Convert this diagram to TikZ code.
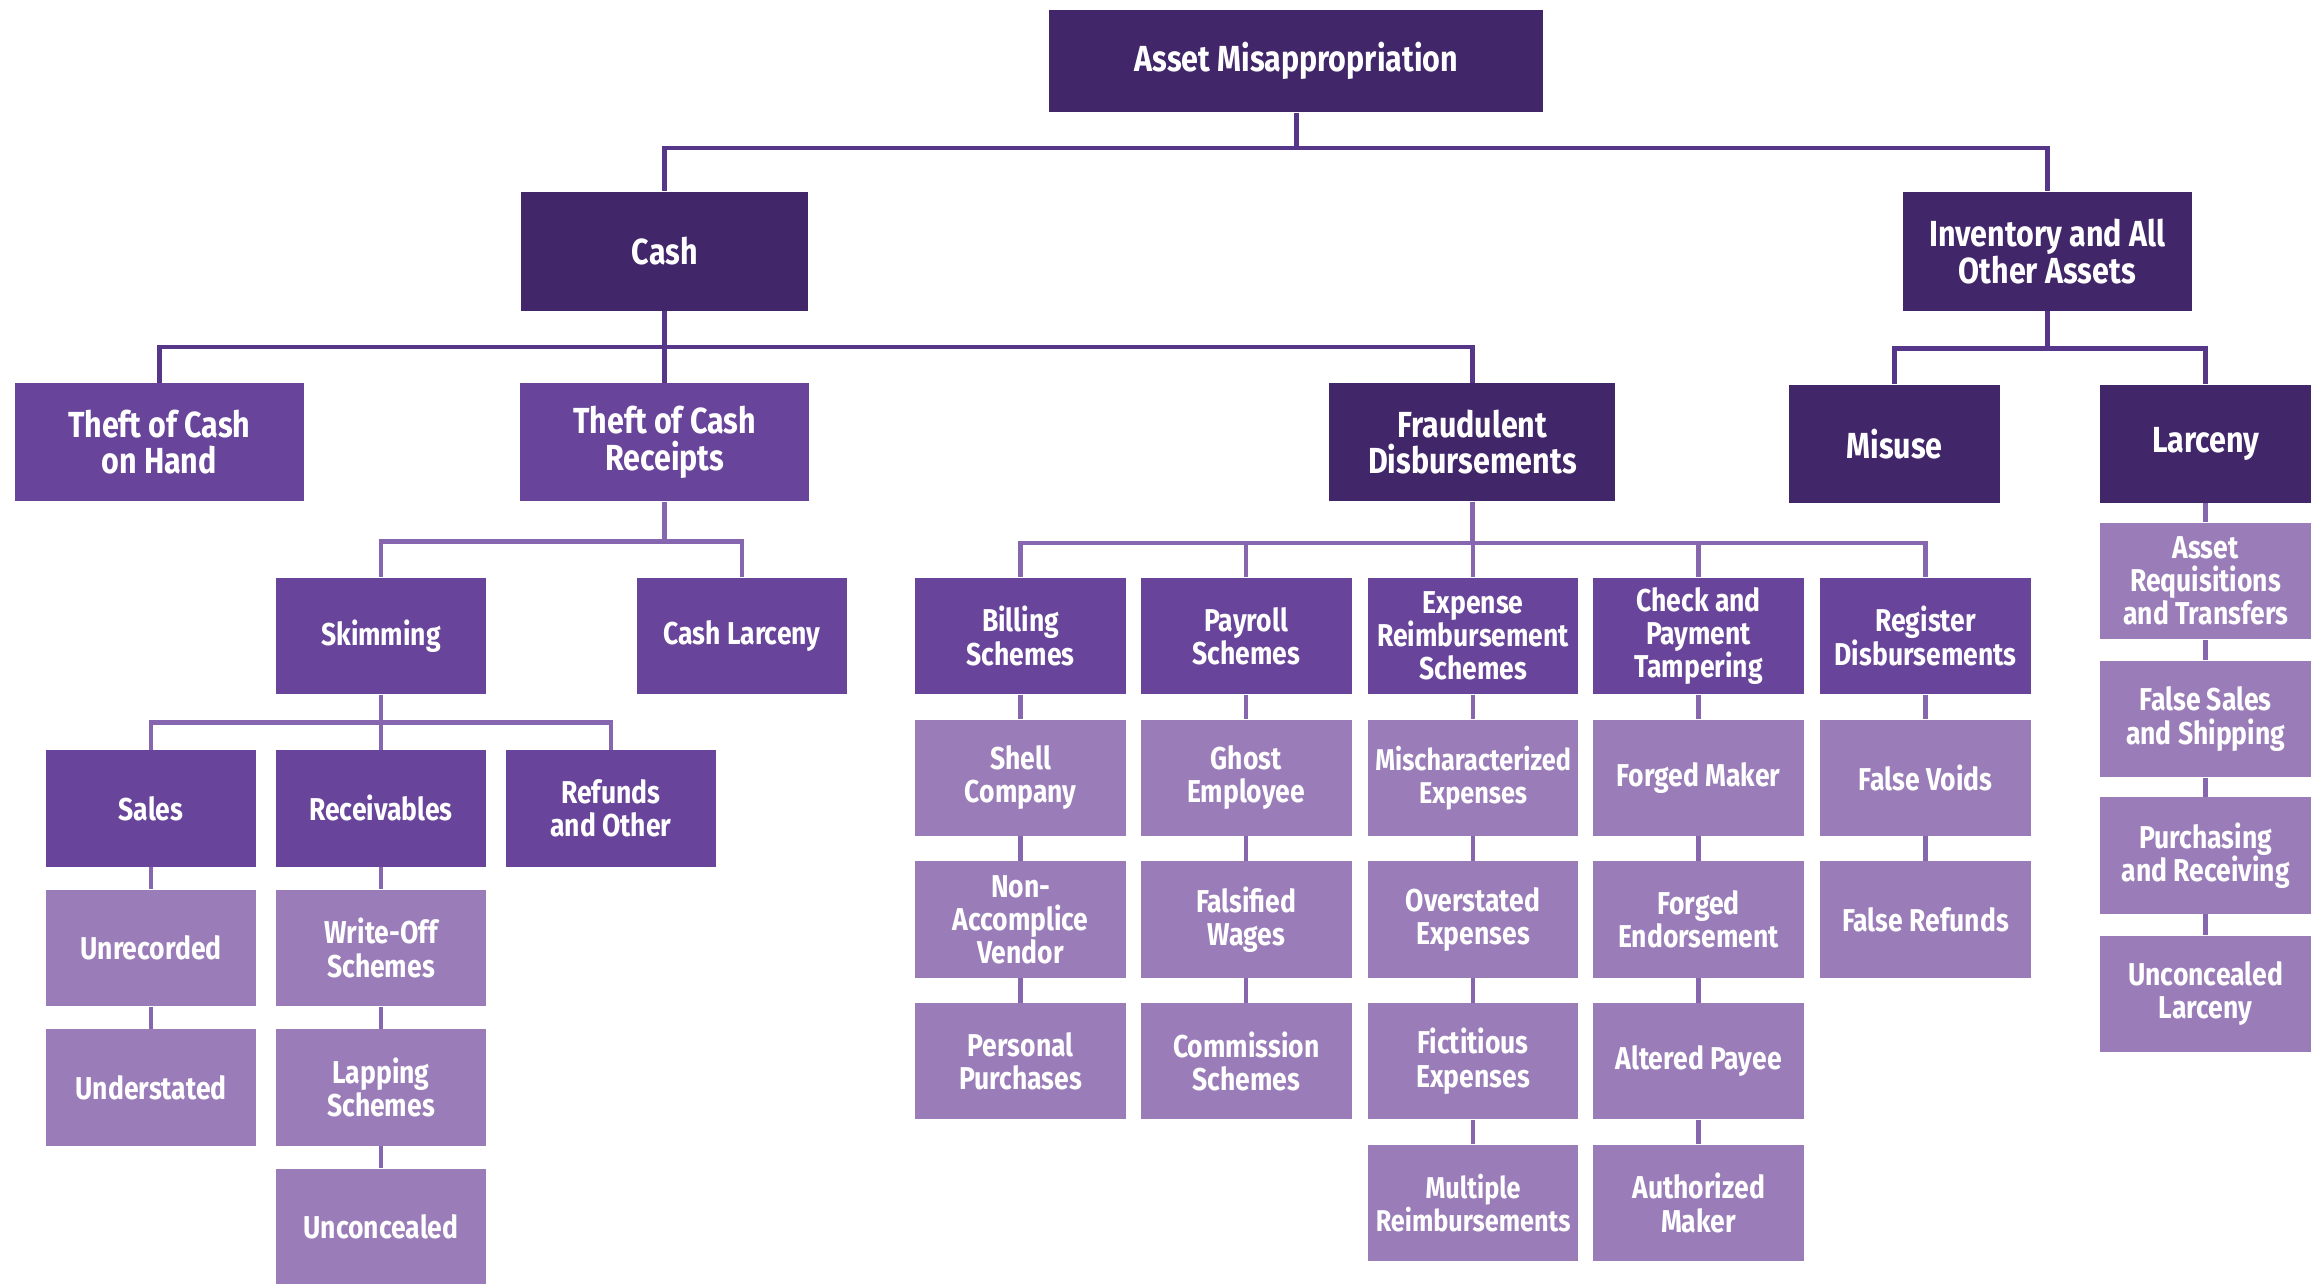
\documentclass[tikz,border=0pt]{standalone}
\usepackage{fontspec}
\setmainfont{Fira Sans}[FakeStretch=0.84]
\usetikzlibrary{positioning}
\definecolor{darkpurple}{HTML}{42266A}
\definecolor{midpurple}{HTML}{68449B}
\definecolor{lightpurple}{HTML}{9A7CB8}
\definecolor{linedark}{HTML}{563689}
\definecolor{linemid}{HTML}{8566AF}

\begin{document}
\begin{tikzpicture}[
  x=0.02cm, y=-0.02cm,
  node distance=0.3cm,
  box/.style={rectangle, inner sep=1pt, align=center, text=white,
    font=\fontsize{12.2}{12.8}\selectfont\bfseries,
    minimum width=2.86cm, minimum height=1.58cm},
  bigtext/.style={font=\fontsize{14}{14.2}\selectfont\bfseries},
  tighttext/.style={font=\fontsize{11.6}{12.8}\selectfont\bfseries},
  topbox/.style={box, fill=darkpurple},
  subbox/.style={box, fill=midpurple},
  leafbox/.style={box, fill=lightpurple},
  link/.style={draw=linedark, line width=1.8pt},
  sublink/.style={draw=linemid, line width=1.8pt},
]
  \useasboundingbox (0,0) rectangle (1568,871);

  % top levels
  \node[topbox, bigtext, minimum width=6.7cm, minimum height=1.38cm] (asset) at (879.5,41.5) {Asset Misappropriation};
  \node[topbox, bigtext, minimum width=3.9cm, minimum height=1.62cm] (cash) at (451,170.5) {Cash};
  \node[topbox, bigtext, minimum width=3.92cm, minimum height=1.62cm] (inv) at (1389,170.5) {Inventory and All\\Other Assets};

  \node[subbox, bigtext, minimum width=3.92cm, minimum height=1.6cm] (hand) at (108,300) {Theft of Cash\\on Hand};
  \node[subbox, bigtext, minimum width=3.92cm, minimum height=1.6cm] (receipts) at (451,300) {Theft of Cash\\Receipts};
  \node[topbox, bigtext, minimum width=3.88cm, minimum height=1.6cm] (fraud) at (999,300) {Fraudulent\\Disbursements};
  \node[topbox, bigtext, minimum height=1.6cm] (misuse) at (1285.5,301) {Misuse};
  \node[topbox, bigtext, minimum height=1.6cm] (larceny) at (1496.5,301) {Larceny};

  % cash receipts
  \node[subbox] (skimming) at (258.5,431.5) {Skimming};
  \node[subbox] (cashlarc) at (503.5,431.5) {Cash Larceny};
  \node[subbox] (sales) at (102.5,548.5) {Sales};
  \node[subbox] (receivables) at (258.5,548.5) {Receivables};
  \node[subbox] (refunds) at (414.5,548.5) {Refunds\\and Other};
  \node[leafbox, below=of sales] (unrecorded) {Unrecorded};
  \node[leafbox, below=of unrecorded] (understated) {Understated};
  \node[leafbox, below=of receivables] (writeoff) {Write-Off\\Schemes};
  \node[leafbox, below=of writeoff] (lapping) {Lapping\\Schemes};
  \node[leafbox, below=of lapping] (unconcealed) {Unconcealed};

  % disbursements
  \node[subbox] (billing) at (692.5,431.5) {Billing\\Schemes};
  \node[subbox] (payroll) at (845.5,431.5) {Payroll\\Schemes};
  \node[subbox] (expense) at (999.5,431.5) {Expense\\Reimbursement\\Schemes};
  \node[subbox] (check) at (1152.5,431.5) {Check and\\Payment\\Tampering};
  \node[subbox] (register) at (1306.5,431.5) {Register\\Disbursements};

  \node[leafbox, below=0.33cm of billing] (shell) {Shell\\Company};
  \node[leafbox, below=0.33cm of shell] (nonacc) {Non-\\Accomplice\\Vendor};
  \node[leafbox, below=0.33cm of nonacc] (personal) {Personal\\Purchases};
  \node[leafbox, below=0.33cm of payroll] (ghost) {Ghost\\Employee};
  \node[leafbox, below=0.33cm of ghost] (wages) {Falsified\\Wages};
  \node[leafbox, below=0.33cm of wages] (commission) {Commission\\Schemes};
  \node[leafbox, tighttext, below=0.33cm of expense] (mischar) {Mischaracterized\\Expenses};
  \node[leafbox, below=0.33cm of mischar] (overstated) {Overstated\\Expenses};
  \node[leafbox, below=0.33cm of overstated] (fictitious) {Fictitious\\Expenses};
  \node[leafbox, tighttext, below=0.33cm of fictitious] (multiple) {Multiple\\Reimbursements};
  \node[leafbox, below=0.33cm of check] (fmaker) {Forged Maker};
  \node[leafbox, below=0.33cm of fmaker] (fendorse) {Forged\\Endorsement};
  \node[leafbox, below=0.33cm of fendorse] (altered) {Altered Payee};
  \node[leafbox, below=0.33cm of altered] (authorized) {Authorized\\Maker};
  \node[leafbox, below=0.33cm of register] (voids) {False Voids};
  \node[leafbox, below=0.33cm of voids] (frefunds) {False Refunds};

  % larceny
  \node[leafbox, below=0.26cm of larceny] (requisitions) {Asset\\Requisitions\\and Transfers};
  \node[leafbox, below=0.28cm of requisitions] (falsesales) {False Sales\\and Shipping};
  \node[leafbox, below=0.26cm of falsesales] (purchasing) {Purchasing\\and Receiving};
  \node[leafbox, below=0.28cm of purchasing] (unconclarc) {Unconcealed\\Larceny};

  % connectors
  \foreach \c in {cash,inv}
    \draw[link] (asset.south) -- ++(0,24) -| (\c.north);
  \foreach \c in {hand,receipts,fraud}
    \draw[link] (cash.south) -- ++(0,24) -| (\c.north);
  \foreach \c in {misuse,larceny}
    \draw[link] (inv.south) -- ++(0,25) -| (\c.north);
  \foreach \c in {skimming,cashlarc}
    \draw[sublink] (receipts.south) -- ++(0,27) -| (\c.north);
  \foreach \c in {sales,receivables,refunds}
    \draw[sublink] (skimming.south) -- ++(0,19) -| (\c.north);
  \foreach \c in {billing,payroll,expense,check,register}
    \draw[sublink] (fraud.south) -- ++(0,28) -| (\c.north);

  \foreach \a/\b in {sales/unrecorded, unrecorded/understated,
      receivables/writeoff, writeoff/lapping, lapping/unconcealed,
      billing/shell, shell/nonacc, nonacc/personal,
      payroll/ghost, ghost/wages, wages/commission,
      expense/mischar, mischar/overstated, overstated/fictitious, fictitious/multiple,
      check/fmaker, fmaker/fendorse, fendorse/altered, altered/authorized,
      register/voids, voids/frefunds,
      larceny/requisitions, requisitions/falsesales, falsesales/purchasing, purchasing/unconclarc}
    \draw[sublink] (\a.south) -- (\b.north);
\end{tikzpicture}
\end{document}
